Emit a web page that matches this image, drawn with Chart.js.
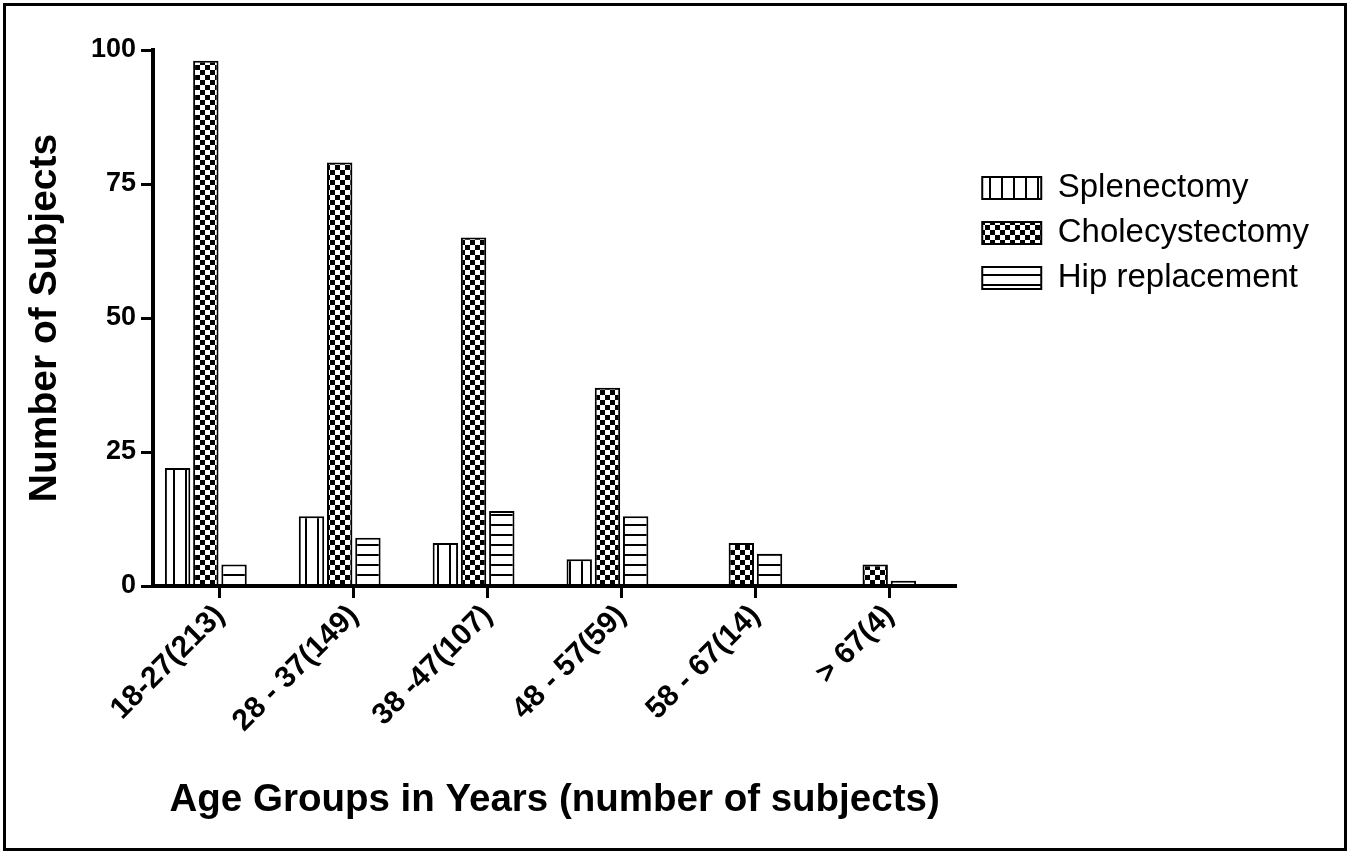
<!DOCTYPE html>
<html>
<head>
<meta charset="utf-8">
<script src="https://cdn.jsdelivr.net/npm/chart.js@4.4.1/dist/chart.umd.min.js"></script>
<style>
  html, body { margin: 0; padding: 0; background: #fff; }
  #wrap { position: relative; width: 1351px; height: 853px; }
  #frame { position: absolute; left: 3px; top: 3px; width: 1344px; height: 848px;
           box-sizing: border-box; border: 3px solid #000; pointer-events: none; }
</style>
</head>
<body>
<div id="wrap">
  <canvas id="chart" width="1351" height="853"></canvas>
  <div id="frame"></div>
</div>
<script>
// 1) values
const ageGroups       = ['18-27(213)', '28 - 37(149)', '38 -47(107)', '48 - 57(59)', '58 - 67(14)', '> 67(4)'];
const splenectomy     = [22, 13, 8, 5, 0, 0];
const cholecystectomy = [98, 79, 65, 37, 8, 4];
const hipReplacement  = [4, 9, 14, 13, 6, 1];
// empty 4th slot - the figure leaves one bar's gap after each group
const spacer          = [null, null, null, null, null, null];
const yTicks          = [0, 25, 50, 75, 100];

const FONT = "'Liberation Sans', Arial, Helvetica, sans-serif";
Chart.defaults.font.family = FONT;
Chart.defaults.color = '#000';

// 2) hatch fills
function makePattern(kind) {
  const c = document.createElement('canvas');
  const g = c.getContext('2d');
  if (kind === 'vert') {
    c.width = 12; c.height = 12;
    g.fillStyle = '#fff'; g.fillRect(0, 0, 12, 12);
    g.fillStyle = '#000'; g.fillRect(5, 0, 2, 12);
  } else if (kind === 'horiz') {
    c.width = 10; c.height = 10;
    g.fillStyle = '#fff'; g.fillRect(0, 0, 10, 10);
    g.fillStyle = '#000'; g.fillRect(0, 4, 10, 2);
  } else {
    c.width = 10; c.height = 10;
    g.fillStyle = '#fff'; g.fillRect(0, 0, 10, 10);
    g.fillStyle = '#000'; g.fillRect(0, 0, 5, 5); g.fillRect(5, 5, 5, 5);
  }
  return g.createPattern(c, 'repeat');
}

function barSet(label, data, fill) {
  return {
    label, data,
    backgroundColor: fill,
    borderColor: '#000',
    borderWidth: 2,
    borderSkipped: 'start'
  };
}

// 3) chart
new Chart(document.getElementById('chart').getContext('2d'), {
  type: 'bar',
  data: {
    labels: ageGroups,
    datasets: [
      barSet('Splenectomy', splenectomy, makePattern('vert')),
      barSet('Cholecystectomy', cholecystectomy, makePattern('check')),
      barSet('Hip replacement', hipReplacement, makePattern('horiz')),
      barSet('', spacer, 'rgba(0,0,0,0)')
    ]
  },
  options: {
    responsive: false,
    animation: false,
    devicePixelRatio: 1,
    layout: { padding: { left: 0, top: 50, right: 32, bottom: 0 } },
    datasets: { bar: { categoryPercentage: 0.843, barPercentage: 0.9 } },
    plugins: {
      legend: {
        position: 'right',
        align: 'start',
        maxWidth: 420,
        title: { display: true, text: ' ', font: { size: 12 }, padding: { top: 95, bottom: 0 } },
        labels: {
          boxWidth: 59, boxHeight: 22, padding: 12, color: '#000',
          font: { size: 33 },
          filter: item => item.datasetIndex < 3
        }
      },
      tooltip: { enabled: false }
    },
    scales: {
      x: {
        grid: { offset: false, drawOnChartArea: false, drawTicks: true, tickLength: 12, tickWidth: 3, tickColor: '#000' },
        border: { color: '#000', width: 4, z: 1 },
        ticks: { autoSkip: false, maxRotation: 45, minRotation: 45, padding: 0,
                 font: { size: 30, weight: 'bold' }, color: '#000' },
        title: { display: true, text: 'Age Groups in Years (number of subjects)', color: '#000',
                 font: { size: 38.5, weight: 'bold' }, padding: { top: 0, bottom: 30 } },
        afterFit: s => { s.height = 267; }
      },
      y: {
        min: 0, max: 100,
        afterBuildTicks: s => { s.ticks = yTicks.map(v => ({ value: v })); },
        grid: { drawOnChartArea: false, tickLength: 12, tickWidth: 3, tickColor: '#000' },
        border: { color: '#000', width: 4, z: 1 },
        ticks: { padding: 5, font: { size: 27, weight: 'bold' }, color: '#000' },
        title: { display: true, text: 'Number of Subjects', color: '#000',
                 font: { size: 39, weight: 'bold' }, padding: { top: 22, bottom: 0 } },
        afterFit: s => { s.width = 153; }
      },
      // blank strip between the plot and the legend
      gap: {
        type: 'linear', position: 'right', display: true,
        grid: { display: false }, border: { display: false }, ticks: { display: false },
        afterFit: s => { s.width = 14; }
      }
    }
  }
});
</script>
</body>
</html>
